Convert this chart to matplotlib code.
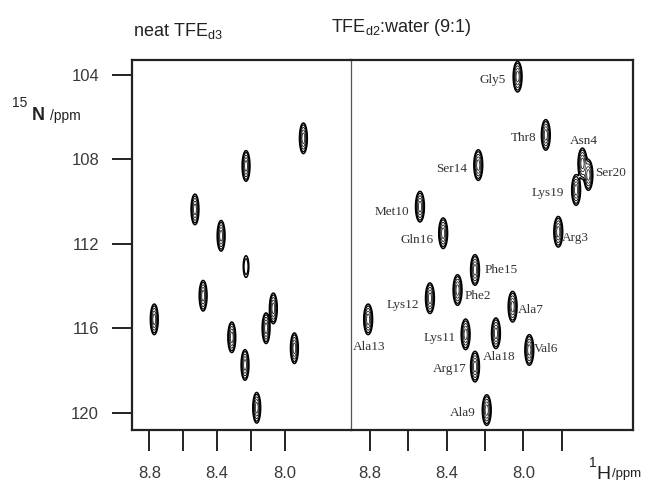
"""2D 1H-15N HSQC spectra: neat TFE vs TFE:water (9:1)"""

import matplotlib
matplotlib.use('Agg')
import matplotlib.pyplot as plt
import numpy as np

# ---- data: peak positions (1H ppm, 15N ppm) ----
# left spectrum, neat TFE-d3 (unassigned)
left_h = [7.892, 8.230, 8.531, 8.377, 8.230, 8.483, 8.771, 8.069, 8.112, 8.314, 7.945, 8.236, 8.167]
left_n = [107.00, 108.31, 110.37, 111.62, 113.08, 114.46, 115.58, 115.06, 116.00, 116.43, 116.95, 117.74, 119.77]
left_amp = [1, 1, 1, 1, 0.3, 1, 1, 1, 1, 1, 1, 1, 1]

# right spectrum, TFE-d2:water (9:1), assigned
right_names = ['Gly5', 'Thr8', 'Asn4', 'Ser20', 'Lys19', 'Ser14', 'Met10', 'Gln16', 'Arg3',
               'Phe15', 'Phe2', 'Lys12', 'Ala7', 'Ala13', 'Lys11', 'Ala18', 'Val6', 'Arg17', 'Ala9']
right_h = [8.030, 7.883, 7.692, 7.661, 7.725, 8.235, 8.539, 8.418, 7.818,
           8.252, 8.343, 8.487, 8.056, 8.809, 8.301, 8.143, 7.969, 8.252, 8.191]
right_n = [104.08, 106.84, 108.19, 108.74, 109.45, 108.27, 110.24, 111.50, 111.43,
           113.24, 114.19, 114.58, 114.98, 115.58, 116.29, 116.24, 117.03, 117.82, 119.88]
right_amp = [1] * len(right_names)

y_ticks = [104, 108, 112, 116, 120]

# label offsets in pixels from the peak (layout only)
label_offsets = {
    'Gly5': (-25, -3), 'Thr8': (-22, -3), 'Asn4': (1, 22), 'Ser20': (22, 2),
    'Lys19': (-28, -3), 'Ser14': (-27, -4), 'Met10': (-28, -5), 'Gln16': (-26, -7),
    'Arg3': (17, -6), 'Phe15': (26, 0), 'Phe2': (20, -6), 'Lys12': (-27, -7),
    'Ala7': (18, -3), 'Ala13': (1, -28), 'Lys11': (-26, -4), 'Ala18': (3, -24),
    'Val6': (17, 1), 'Arg17': (-25, -2), 'Ala9': (-24, -3),
}

plt.rcParams['font.family'] = ['Liberation Sans', 'DejaVu Sans']
plt.rcParams['mathtext.default'] = 'regular'

W, H = 655, 483
fig = plt.figure(figsize=(W / 100, H / 100), dpi=100)


def px(x, y):
    """pixel position (from top left) -> figure fraction"""
    return x / W, 1 - y / H


def draw_peaks(ax, hs, ns, amps, xlim, ylim):
    x = np.linspace(xlim[1], xlim[0], 1500)
    y = np.linspace(ylim[1], ylim[0], 700)
    X, Y = np.meshgrid(x, y)
    Z = np.zeros_like(X)
    for h, n, a in zip(hs, ns, amps):
        Z += a * np.exp(-0.5 * (((X - h) / 0.0105) ** 2 + ((Y - n) / 0.33) ** 2))
    levels = [0.09, 0.16, 0.3, 0.5, 0.75]
    ax.contour(X, Y, Z, levels=levels, colors='k', linewidths=[1.1, 0.9, 0.6, 0.5, 0.5])


left_xlim = (8.904, 7.613)
right_xlim = (8.900, 7.430)
ylim = (120.80, 103.29)

ax1 = fig.add_axes([131.7 / W, 1 - 429.5 / H, 219 / W, 369.5 / H])
ax2 = fig.add_axes([350.7 / W, 1 - 429.5 / H, 282 / W, 369.5 / H])

draw_peaks(ax1, left_h, left_n, left_amp, left_xlim, ylim)
draw_peaks(ax2, right_h, right_n, right_amp, right_xlim, ylim)

for name, h, n in zip(right_names, right_h, right_n):
    ax2.annotate(name, (h, n), xytext=label_offsets[name], textcoords='offset pixels',
                 ha='center', va='center', fontsize=9.5, color='#333333',
                 family='Liberation Serif')

for ax, xlim, xt in [(ax1, left_xlim, [8.8, 8.6, 8.4, 8.2, 8.0]),
                     (ax2, right_xlim, [8.8, 8.6, 8.4, 8.2, 8.0, 7.8])]:
    ax.set_xlim(*xlim)
    ax.set_ylim(*ylim)
    ax.set_xticks(xt)
    ax.set_xticklabels([f'{v:.1f}' if i % 2 == 0 else '' for i, v in enumerate(xt)])
    ax.tick_params(axis='x', direction='out', length=15, width=1.4, pad=11.5,
                   labelsize=12, labelcolor='#3a3a3a', color='#222222')
    for s in ax.spines.values():
        s.set_linewidth(1.6)
        s.set_color('#222222')

ax1.set_yticks(y_ticks)
ax1.set_yticklabels([str(v) for v in y_ticks])
ax1.tick_params(axis='y', direction='out', length=14.5, width=1.4, pad=9,
                labelsize=12, labelcolor='#3a3a3a', color='#222222')
ax2.set_yticks([])
# thin divider between the two spectra
ax1.spines['right'].set_visible(False)
ax2.spines['left'].set_linewidth(0.9)
ax2.spines['left'].set_color('#555555')

# titles
fig.text(*px(178, 31), r'neat TFE$_{d3}$', ha='center', va='center', fontsize=13, color='#222222')
fig.text(*px(401, 28), r'TFE$_{d2}$:water (9:1)', ha='center', va='center', fontsize=13, color='#222222')

# axis labels
fig.text(*px(12, 107), '15', ha='left', va='baseline', fontsize=10, color='#222222')
fig.text(*px(32, 120), 'N', ha='left', va='baseline', fontsize=13, fontweight='bold', color='#222222')
fig.text(*px(50, 120), '/ppm', ha='left', va='baseline', fontsize=10, color='#222222')
fig.text(*px(589, 467), '1', ha='left', va='baseline', fontsize=10, color='#222222')
fig.text(*px(596, 479), 'H', ha='left', va='baseline', fontsize=14, color='#222222')
fig.text(*px(612, 477), '/ppm', ha='left', va='baseline', fontsize=9.5, color='#222222')

fig.savefig('out.png', dpi=100)
